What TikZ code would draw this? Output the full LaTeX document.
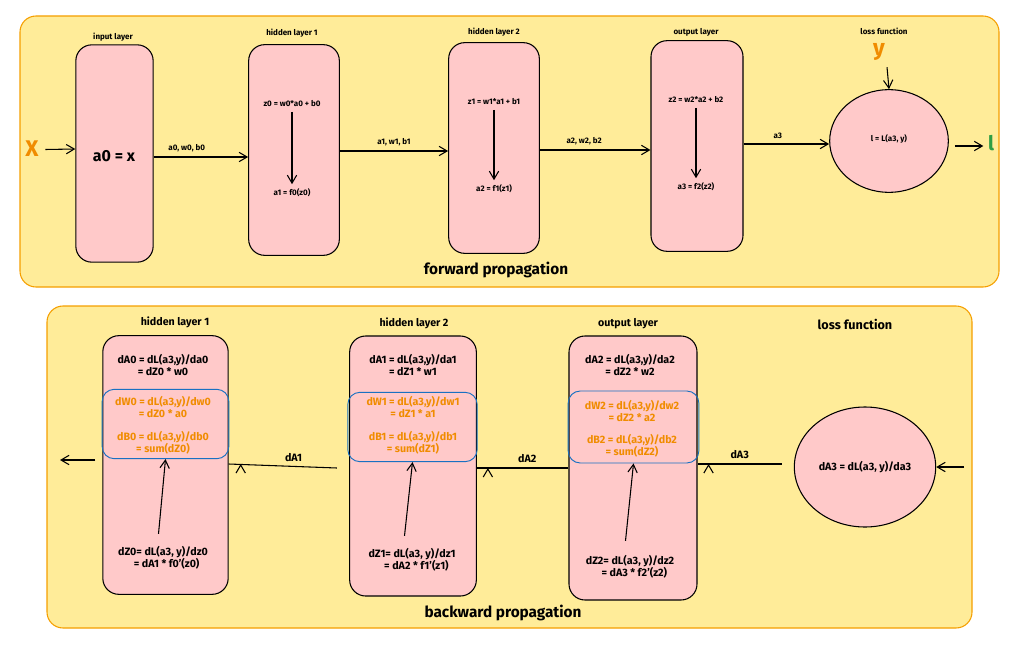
\documentclass[tikz,border=0pt]{standalone}
\usepackage{fontspec}
\setmainfont{Fira Sans}
\usetikzlibrary{arrows.meta,shapes.geometric,positioning}
\definecolor{panel}{HTML}{FFEC99}
\definecolor{panelline}{HTML}{F59F00}
\definecolor{cell}{HTML}{FFC9C9}
\definecolor{grad}{HTML}{F08C00}
\definecolor{ring}{HTML}{1971C2}
\definecolor{lossout}{HTML}{2F9E44}
\tikzset{
  panelbox/.style={draw=panelline, fill=panel, rounded corners=12pt, line width=0.8pt},
  layer/.style={draw=black, fill=cell, rounded corners=12pt, line width=0.8pt, inner sep=0pt},
  gradbox/.style={draw=ring, rounded corners=9pt, line width=0.7pt, inner sep=0pt},
  lossnode/.style={draw=black, fill=cell, ellipse, line width=0.8pt, inner sep=0pt},
  tag/.style={font=\bfseries\fontsize{6}{7}\selectfont},
  eq/.style={font=\bfseries\fontsize{6}{7}\selectfont},
  beq/.style={font=\bfseries\fontsize{8}{9}\selectfont, align=center},
  geq/.style={beq, text=grad},
  title/.style={font=\bfseries\fontsize{11.5}{13}\selectfont},
  flow/.style={-{Straight Barb[length=6pt,width=7pt]}, line width=0.8pt},
}
\begin{document}
\begin{tikzpicture}[x=0.75pt,y=-0.75pt]
\useasboundingbox (0,0) rectangle (1019,649);
% panels
\draw[panelbox] (20,16) rectangle (999,287);
\draw[panelbox] (47,306) rectangle (972,628);

% forward propagation
\node[layer, minimum width=58pt, minimum height=163pt] (in) at (114.5,153.5) {};
\node[layer, minimum width=68pt, minimum height=158pt] (fh1) at (294,150) {};
\node[layer, minimum width=68pt, minimum height=158pt] (fh2) at (494,148) {};
\node[layer, minimum width=69pt, minimum height=158pt] (fout) at (697,146) {};
\node[lossnode, minimum width=89pt, minimum height=77pt] (floss) at (889,141) {};

\node[tag] at (113,37) {input layer};
\node[tag] at (292,33) {hidden layer 1};
\node[tag] at (494,32) {hidden layer 2};
\node[tag] at (696,32) {output layer};
\node[tag] at (884,31) {loss function};

\node[font=\bfseries\fontsize{12}{14}\selectfont] (a0) at (114,156) {a0 = x};
\node[eq] (z0) at (292,104) {z0 = w0*a0 + b0};
\node[eq] (a1) at (292,193) {a1 = f0(z0)};
\node[eq] (z1) at (494,102) {z1 = w1*a1 + b1};
\node[eq] (a2) at (494,189) {a2 = f1(z1)};
\node[eq] (z2) at (696,100) {z2 = w2*a2 + b2};
\node[eq] (a3) at (696,187) {a3 = f2(z2)};
\node[eq] (lfun) at (889,139) {l = L(a3, y)};
\draw[flow] (z0) -- (a1);
\draw[flow] (z1) -- (a2);
\draw[flow] (z2) -- (a3);

\node[font=\bfseries\fontsize{17}{18}\selectfont, text=grad] (xin) at (32,149) {X};
\node[font=\bfseries\fontsize{17}{18}\selectfont, text=grad] (yin) at (879,52) {y};
\node[font=\bfseries\fontsize{15}{16}\selectfont, text=lossout] (lout) at (991,143) {l};

\draw[flow] (xin.east |- in.west) ++(2,-4) -- (in.west |- 0,149);
\draw[flow] (in.east |- 0,157) -- node[eq, above, pos=.35] {a0, w0, b0} (fh1.west |- 0,157);
\draw[flow] (fh1.east |- 0,151) -- node[eq, above] {a1, w1, b1} (fh2.west |- 0,151);
\draw[flow] (fh2.east |- 0,150) -- node[eq, above, pos=.4] {a2, w2, b2} (fout.west |- 0,150);
\draw[flow] (fout.east |- 0,144) -- node[eq, above, pos=.4] {a3} (floss.west |- 0,144);
\draw[flow] (floss.east |- 0,146) ++(6,0) -- (lout.west |- 0,146);
\draw[flow] (yin.south) ++(8,2) -- (floss.north);
\node[title] at (496,270) {forward propagation};

% backward propagation
\node[layer, minimum width=94pt, minimum height=194pt] (bh1) at (165.5,465) {};
\node[layer, minimum width=95pt, minimum height=195pt] (bh2) at (413,466) {};
\node[layer, minimum width=96pt, minimum height=198pt] (bout) at (633,468) {};
\node[lossnode, minimum width=106pt, minimum height=90pt] (bloss) at (865,467) {};

\node[gradbox, minimum width=95pt, minimum height=52pt] (g1) at (165.5,424) {};
\node[gradbox, minimum width=97pt, minimum height=52pt] (g2) at (412.5,427) {};
\node[gradbox, minimum width=98pt, minimum height=54pt] (g3) at (633.5,427) {};

\node[beq] at (175,322) {hidden layer 1};
\node[beq] at (414,323) {hidden layer 2};
\node[beq] at (628,324) {output layer};
\node[font=\bfseries\fontsize{9.5}{11}\selectfont] at (855,324) {loss function};

\node[beq] at (163,365) {dA0 = dL(a3,y)/da0\\ = dZ0 * w0};
\node[geq] at (163,407) {dW0 = dL(a3,y)/dw0\\ = dZ0 * a0};
\node[geq] at (163,443) {dB0 = dL(a3,y)/db0\\ = sum(dZ0)};
\node[beq, align=left] (dz0) at (163,558) {dZ0= dL(a3, y)/dz0\\ \quad\ \ = dA1 * f0'(z0)};

\node[beq] at (413,365) {dA1 = dL(a3,y)/da1\\ = dZ1 * w1};
\node[geq] at (413,407) {dW1 = dL(a3,y)/dw1\\ = dZ1 * a1};
\node[geq] at (413,443) {dB1 = dL(a3,y)/db1\\ = sum(dZ1)};
\node[beq, align=left] (dz1) at (412,560) {dZ1= dL(a3, y)/dz1\\ \quad\ \ = dA2 * f1'(z1)};

\node[beq] at (630,365) {dA2 = dL(a3,y)/da2\\ = dZ2 * w2};
\node[geq] at (632,411) {dW2 = dL(a3,y)/dw2\\ = dZ2 * a2};
\node[geq] at (632,446) {dB2 = dL(a3,y)/db2\\ = sum(dZ2)};
\node[beq, align=left] (dz2) at (630,567) {dZ2= dL(a3, y)/dz2\\ \quad\ \ = dA3 * f2'(z2)};

\node[beq] at (865,467) {dA3 = dL(a3, y)/da3};

\draw[flow] (dz0.north -| g1) ++(-7,-8) -- (g1.south);
\draw[flow] (dz1.north -| g2) ++(-8,-8) -- (g2.south);
\draw[flow] (dz2.north -| g3) ++(-8,-10) -- (g3.south);

\coordinate (bin) at (964,467);
\coordinate (bend) at (60,460);
\draw[flow] (bin) -- (bloss.east);
\draw[flow] (bloss.west |- 0,464) ++(-12,0) -- node[beq, above] {dA3} (bout.east |- 0,464) ++(11,0);
\draw[flow] (bout.west |- 0,468) -- node[beq, above, pos=.45] {dA2} (bh2.east |- 0,468) ++(11,0);
\draw[flow] (bh2.east |- 0,468) ++(-140,0) -- node[beq, above, pos=.4] {dA1} (bh1.east |- 0,464) ++(12,0);
\draw[flow] (bh1.west |- 0,460) ++(-7,0) -- (bend);
\node[title] at (503,613) {backward propagation};
\end{tikzpicture}
\end{document}
